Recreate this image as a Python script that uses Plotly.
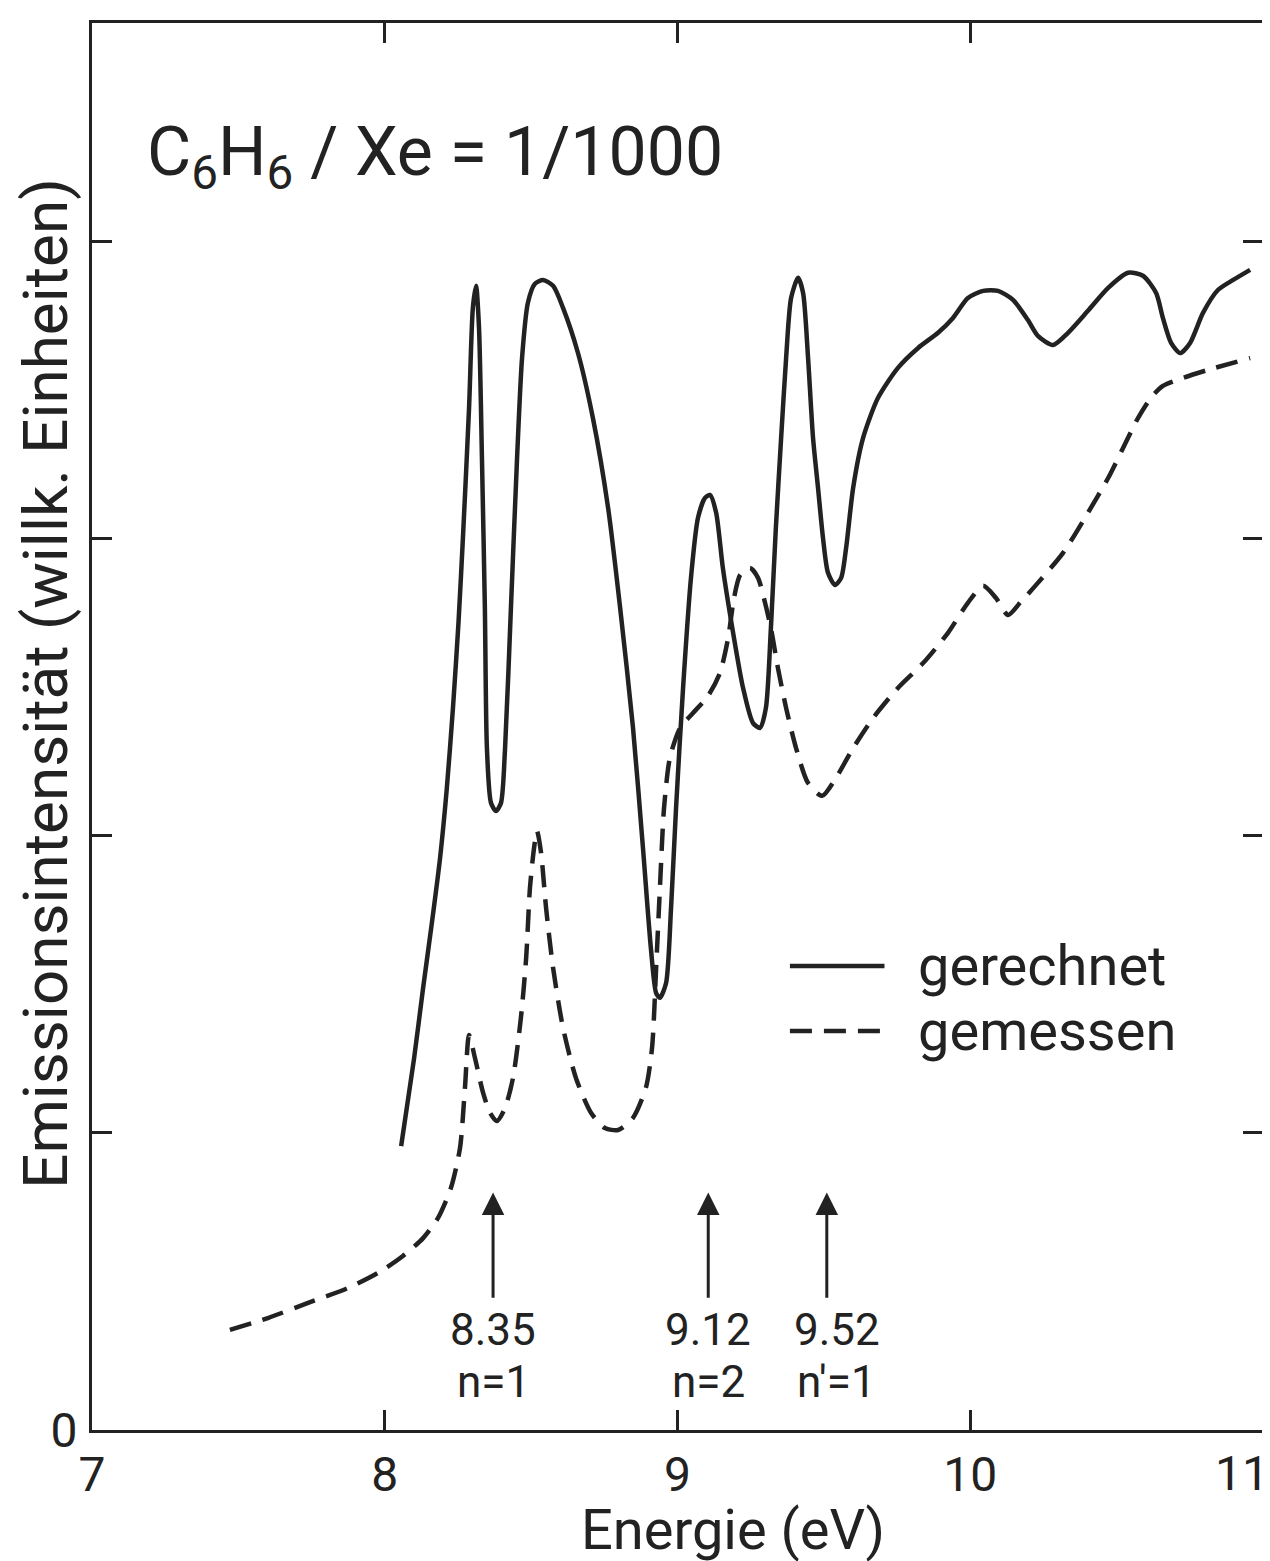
import plotly.graph_objects as go

# ---- data ----
calc_x = [8.056, 8.100, 8.131, 8.160, 8.189, 8.212, 8.233, 8.252, 8.267, 8.288, 8.301, 8.312, 8.322, 8.332, 8.342, 8.349,
          8.363, 8.380, 8.397, 8.411, 8.431, 8.452, 8.469, 8.489, 8.513, 8.541, 8.575, 8.609,
          8.660, 8.711, 8.763, 8.804, 8.848, 8.882, 8.909, 8.927, 8.940, 8.961, 8.978, 8.995,
          9.019, 9.046, 9.070, 9.094, 9.111, 9.132, 9.155, 9.190, 9.224, 9.258, 9.282, 9.302,
          9.319, 9.336, 9.354, 9.371, 9.388, 9.412, 9.429, 9.446, 9.463, 9.480, 9.497, 9.514,
          9.538, 9.559, 9.576, 9.600, 9.634, 9.685, 9.753, 9.822, 9.890, 9.941, 9.992, 10.044,
          10.095, 10.146, 10.197, 10.231, 10.283, 10.334, 10.402, 10.471, 10.539, 10.590, 10.635,
          10.658, 10.686, 10.717, 10.751, 10.795, 10.846, 10.898, 10.956]
calc_y = [0.956, 1.250, 1.488, 1.700, 1.926, 2.160, 2.431, 2.720, 3.003, 3.441, 3.778, 3.852, 3.710, 3.273, 2.768, 2.296,
          2.111, 2.084, 2.111, 2.296, 2.768, 3.273, 3.609, 3.795, 3.859, 3.872, 3.852, 3.778,
          3.626, 3.407, 3.104, 2.768, 2.364, 1.960, 1.623, 1.471, 1.455, 1.505, 1.758, 2.094,
          2.498, 2.869, 3.071, 3.138, 3.148, 3.088, 2.902, 2.684, 2.498, 2.380, 2.364, 2.431,
          2.700, 3.037, 3.340, 3.609, 3.811, 3.879, 3.828, 3.609, 3.340, 3.172, 3.003, 2.886,
          2.845, 2.869, 2.970, 3.172, 3.340, 3.475, 3.576, 3.643, 3.694, 3.744, 3.811, 3.835,
          3.835, 3.805, 3.737, 3.684, 3.653, 3.694, 3.768, 3.845, 3.896, 3.886, 3.828,
          3.744, 3.660, 3.626, 3.660, 3.761, 3.838, 3.872, 3.906]

meas_x = [7.471, 7.601, 7.738, 7.874, 7.977, 8.062, 8.131, 8.182, 8.226, 8.257, 8.274, 8.288,
          8.308, 8.336, 8.360, 8.383, 8.411, 8.438, 8.465, 8.483, 8.496, 8.510, 8.520, 8.534,
          8.551, 8.575, 8.609, 8.653, 8.705, 8.752, 8.797, 8.848, 8.892, 8.913, 8.927, 8.940,
          8.954, 8.974, 9.009, 9.053, 9.104, 9.145, 9.173, 9.193, 9.214, 9.248, 9.275, 9.299,
          9.319, 9.343, 9.371, 9.405, 9.446, 9.494, 9.541, 9.600, 9.668, 9.753, 9.839, 9.924,
          9.992, 10.044, 10.088, 10.129, 10.170, 10.231, 10.317, 10.402, 10.471, 10.522, 10.573,
          10.617, 10.658, 10.727, 10.812, 10.956]
meas_y = [0.337, 0.377, 0.428, 0.478, 0.529, 0.586, 0.646, 0.714, 0.815, 0.949, 1.152, 1.330,
          1.253, 1.135, 1.067, 1.040, 1.084, 1.185, 1.387, 1.589, 1.825, 1.960, 2.017, 1.943,
          1.758, 1.556, 1.354, 1.185, 1.067, 1.017, 1.010, 1.051, 1.152, 1.286, 1.556, 1.825,
          2.094, 2.263, 2.364, 2.414, 2.471, 2.549, 2.667, 2.801, 2.879, 2.902, 2.869, 2.785,
          2.700, 2.566, 2.431, 2.296, 2.178, 2.135, 2.195, 2.296, 2.397, 2.498, 2.582, 2.684,
          2.785, 2.842, 2.801, 2.744, 2.785, 2.852, 2.953, 3.088, 3.205, 3.306, 3.407,
          3.475, 3.515, 3.542, 3.569, 3.609]

x_tick_vals = [7, 8, 9, 10, 11]
x_tick_text = ["7", "8", "9", "10", ""]
last_x_label = "11"
y_tick_vals = [0, 1, 2, 3, 4]
y_tick_text = ["0", "", "", "", ""]

arrow_x = [8.37, 9.105, 9.51]
arrow_energy = ["8.35", "9.12", "9.52"]
arrow_state = ["n=1", "n=2", "n'=1"]

series_names = ["gerechnet", "gemessen"]

INK = "#222222"
FONT = "Roboto, 'Liberation Sans', sans-serif"

fig = go.Figure()
fig.add_trace(go.Scatter(x=calc_x, y=calc_y, mode="lines", name=series_names[0],
                         line=dict(color=INK, width=4.5, shape="spline", smoothing=0.7),
                         showlegend=False))
fig.add_trace(go.Scatter(x=meas_x, y=meas_y, mode="lines", name=series_names[1],
                         line=dict(color=INK, width=4.5, dash="22px,12px", shape="spline", smoothing=0.7),
                         showlegend=False))

annotations = []
# arrows and labels
for xv, en, st in zip(arrow_x, arrow_energy, arrow_state):
    annotations.append(dict(x=xv, y=0.80, ax=xv, ay=0.44, xref="x", yref="y", axref="x", ayref="y",
                            showarrow=True, arrowhead=2, arrowsize=1.5, arrowwidth=3,
                            arrowcolor=INK, text=""))
    shift = 10 if st == "n'=1" else 0
    annotations.append(dict(x=xv, y=0.338, xref="x", yref="y", text=en, showarrow=False,
                            xshift=shift, font=dict(family=FONT, size=44, color=INK)))
    annotations.append(dict(x=xv, y=0.163, xref="x", yref="y", text=st, showarrow=False,
                            xshift=shift, font=dict(family=FONT, size=44, color=INK)))

# last x tick label (kept inside the page)
annotations.append(dict(x=11, y=0, xref="x", yref="y", text=last_x_label, showarrow=False,
                        xanchor="right", yanchor="top", xshift=8, yshift=-13,
                        font=dict(family=FONT, size=48, color=INK)))

# legend texts
annotations.append(dict(x=9.816, y=1.562, xref="x", yref="y", text=series_names[0], xanchor="left",
                        showarrow=False, font=dict(family=FONT, size=56, color=INK)))
annotations.append(dict(x=9.816, y=1.343, xref="x", yref="y", text=series_names[1], xanchor="left",
                        showarrow=False, font=dict(family=FONT, size=56, color=INK)))

# title inside plot
annotations.append(dict(x=0.045, y=0.905, xref="paper", yref="paper", xanchor="left", yanchor="middle",
                        text="C<sub>6</sub>H<sub>6</sub> / Xe = 1/1000", showarrow=False,
                        font=dict(family=FONT, size=68, color=INK)))
# axis titles
annotations.append(dict(x=-0.0393, y=0.531, xref="paper", yref="paper", xanchor="center", yanchor="middle",
                        text="Emissionsintensität (willk. Einheiten)", textangle=-90, showarrow=False,
                        font=dict(family=FONT, size=62, color=INK)))
annotations.append(dict(x=0.547, y=-0.0711, xref="paper", yref="paper", xanchor="center", yanchor="middle",
                        text="Energie (eV)", showarrow=False,
                        font=dict(family=FONT, size=56, color=INK)))

shapes = [
    dict(type="line", xref="x", yref="y", x0=9.384, x1=9.707, y0=1.562, y1=1.562,
         line=dict(color=INK, width=4.5)),
    dict(type="line", xref="x", yref="y", x0=9.384, x1=9.707, y0=1.343, y1=1.343,
         line=dict(color=INK, width=4.5, dash="22px,12px")),
]

fig.update_layout(
    width=1270, height=1561,
    margin=dict(l=84, r=15, t=15, b=139),
    paper_bgcolor="white", plot_bgcolor="white",
    annotations=annotations, shapes=shapes,
    showlegend=False,
    xaxis=dict(range=[7, 11], tickvals=x_tick_vals, ticktext=x_tick_text,
               showline=True, linecolor=INK, linewidth=3, mirror="allticks",
               ticks="inside", ticklen=20, tickwidth=2.5, tickcolor=INK,
               showgrid=False, zeroline=False, ticklabelstandoff=0,
               tickfont=dict(family=FONT, size=48, color=INK)),
    yaxis=dict(range=[0, 4.737], tickvals=y_tick_vals, ticktext=y_tick_text,
               showline=True, linecolor=INK, linewidth=3, mirror="allticks",
               ticks="inside", ticklen=20, tickwidth=2.5, tickcolor=INK,
               showgrid=False, zeroline=False, ticklabelstandoff=2,
               tickfont=dict(family=FONT, size=48, color=INK)),
)

fig.write_html("out.html")
